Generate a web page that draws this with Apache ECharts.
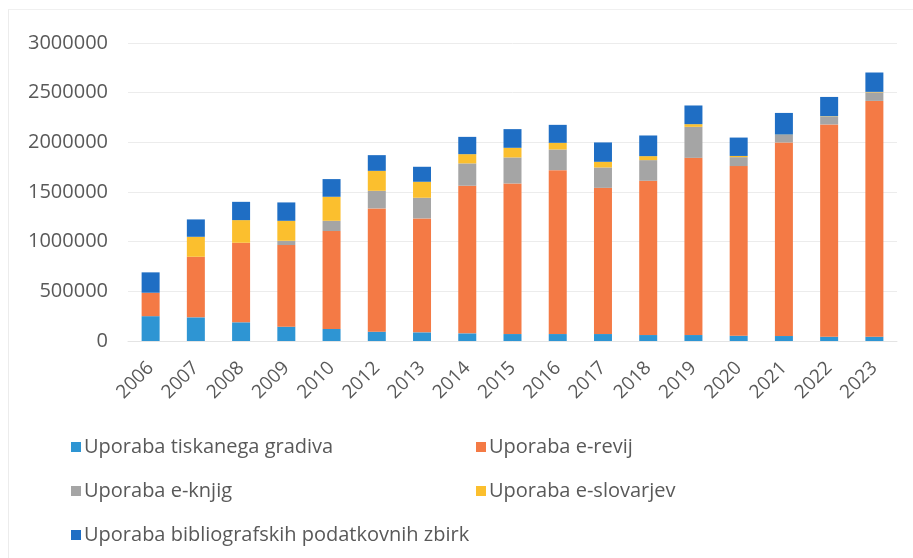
<!DOCTYPE html>
<html>
<head>
<meta charset="utf-8">
<script src="https://cdn.jsdelivr.net/npm/echarts@6/dist/echarts.min.js"></script>
<style>
  html, body { margin: 0; padding: 0; background: #fff; }
  .frame {
    position: absolute;
    left: 8px;
    top: 9px;
    width: 920px;
    height: 560px;
    border-left: 1px solid #ececec;
    border-top: 1px solid #f0f0f0;
  }
  #chart { width: 913px; height: 558px; position: relative; }
</style>
</head>
<body>
<div class="frame"></div>
<div id="chart"></div>
<script>
// leta (2011 manjka v izvirniku)
const years = ['2006', '2007', '2008', '2009', '2010', '2012', '2013', '2014', '2015', '2016', '2017', '2018', '2019', '2020', '2021', '2022', '2023']
const yTicks = [0, 500000, 1000000, 1500000, 2000000, 2500000, 3000000]

const tiskanoGradivo = [250000, 238000, 188000, 144000, 121000, 94000, 87000, 77000, 70000, 70000, 70000, 60000, 60000, 53000, 50000, 43000, 43000]
const eRevije = [236000, 610000, 801000, 822000, 986000, 1241000, 1147000, 1486000, 1516000, 1650000, 1472000, 1553000, 1784000, 1708000, 1949000, 2137000, 2374000]
const eKnjige = [0, 0, 0, 43000, 103000, 177000, 208000, 225000, 262000, 208000, 205000, 208000, 312000, 90000, 75000, 79000, 86000]
const eSlovarji = [0, 201000, 228000, 201000, 242000, 201000, 161000, 93000, 97000, 67000, 57000, 40000, 27000, 12000, 4000, 4000, 5000]
const bibliografskeZbirke = [205000, 175000, 184000, 185000, 178000, 158000, 151000, 174000, 188000, 181000, 195000, 208000, 188000, 185000, 218000, 194000, 195000]

const names = [
  'Uporaba tiskanega gradiva',
  'Uporaba e-revij',
  'Uporaba e-knjig',
  'Uporaba e-slovarjev',
  'Uporaba bibliografskih podatkovnih zbirk'
]
const colors = ['#2E95D3', '#F47A45', '#A5A5A5', '#FBBF2E', '#1F6EC4']
const values = [tiskanoGradivo, eRevije, eKnjige, eSlovarji, bibliografskeZbirke]

const textColor = '#595959'
const font = '"Open Sans", sans-serif'

function chartOption () {
  const legendCommon = {
    orient: 'vertical',
    icon: 'rect',
    itemWidth: 10,
    itemHeight: 10,
    itemGap: 24,
    textStyle: { color: textColor, fontSize: 20, fontFamily: font, padding: [0, 0, 0, -2] }
  }
  return {
    animation: false,
    color: colors,
    legend: [
      Object.assign({}, legendCommon, { left: 66, top: 432, data: [names[0], names[2], names[4]] }),
      Object.assign({}, legendCommon, { left: 471, top: 432, data: [names[1], names[3]] })
    ],
    grid: {
      left: 128,
      right: 16,
      top: 43,
      bottom: 217
    },
    xAxis: {
      type: 'category',
      data: years,
      axisTick: { show: false },
      axisLine: { show: true, lineStyle: { color: '#e4e4e4' } },
      axisLabel: {
        rotate: 45,
        margin: 24,
        color: textColor,
        fontSize: 19,
        fontFamily: font
      }
    },
    yAxis: {
      type: 'value',
      min: yTicks[0],
      max: yTicks[yTicks.length - 1],
      interval: yTicks[1] - yTicks[0],
      axisLine: { show: false },
      axisTick: { show: false },
      axisLabel: {
        margin: 20,
        color: textColor,
        fontSize: 20,
        fontFamily: font,
        formatter: v => String(v)
      },
      splitLine: { lineStyle: { color: '#ececec' } }
    },
    series: values.map((data, i) => ({
      name: names[i],
      type: 'bar',
      stack: 'uporaba',
      barWidth: 18,
      data: data
    }))
  }
}

const chart = echarts.init(document.getElementById('chart'))
chart.setOption(chartOption())
</script>
</body>
</html>
